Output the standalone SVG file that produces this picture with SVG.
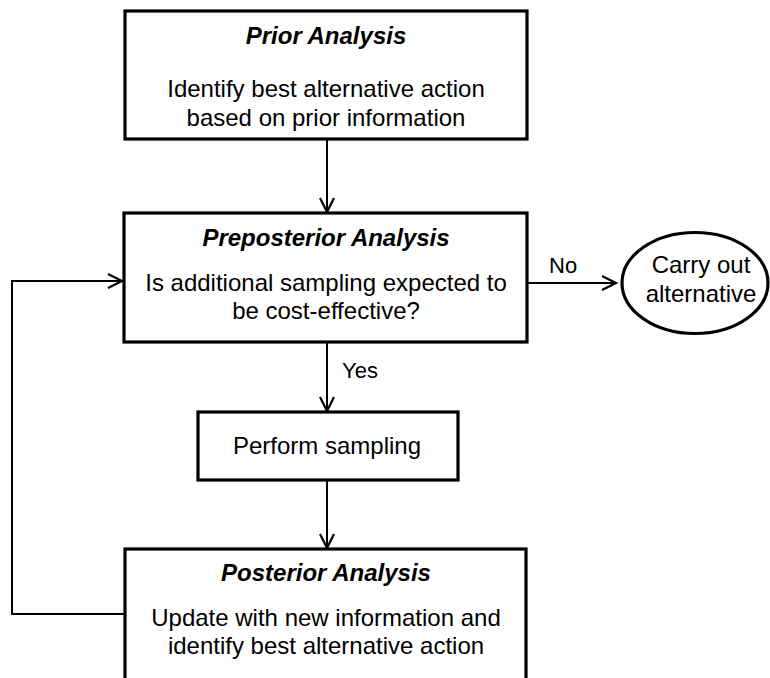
<svg xmlns="http://www.w3.org/2000/svg" width="770" height="678" viewBox="0 0 770 678">
  <defs>
    <marker id="arrow" markerUnits="userSpaceOnUse" markerWidth="18" markerHeight="18" refX="15" refY="8" orient="auto" overflow="visible">
      <path d="M1,1 L15,8 L1,15" fill="none" stroke="#000" stroke-width="2.2"/>
    </marker>
    <style>
      .box { fill: #fff; stroke: #000; stroke-width: 3.2; }
      .title { font-family: "Liberation Sans", Arial, sans-serif; font-size: 24px; font-weight: bold; font-style: italic; fill: #000; text-anchor: middle; }
      .body { font-family: "Liberation Sans", Arial, sans-serif; font-size: 24px; fill: #000; text-anchor: middle; }
      .label { font-family: "Liberation Sans", Arial, sans-serif; font-size: 22px; fill: #000; }
      .conn { fill: none; stroke: #000; stroke-width: 2; }
    </style>
  </defs>
  <rect width="770" height="678" fill="#fff"/>

  <g id="connectors">
    <line class="conn" x1="327" y1="139" x2="327" y2="212" marker-end="url(#arrow)"/>
    <line class="conn" x1="327" y1="342" x2="327" y2="411" marker-end="url(#arrow)"/>
    <line class="conn" x1="327" y1="480" x2="327" y2="548" marker-end="url(#arrow)"/>
    <line class="conn" x1="527" y1="283" x2="616" y2="283" marker-end="url(#arrow)"/>
    <path class="conn" d="M125,614 H12 V281 H122" marker-end="url(#arrow)"/>
    <text class="label" x="549" y="273">No</text>
    <text class="label" x="342" y="378">Yes</text>
  </g>

  <g id="prior">
    <rect class="box" x="125" y="11" width="402" height="128"/>
    <text class="title" x="326" y="44">Prior Analysis</text>
    <text class="body" x="326" y="97">Identify best alternative action</text>
    <text class="body" x="326" y="126">based on prior information</text>
  </g>

  <g id="preposterior">
    <rect class="box" x="124" y="213" width="403" height="129"/>
    <text class="title" x="326" y="246">Preposterior Analysis</text>
    <text class="body" x="326" y="291">Is additional sampling expected to</text>
    <text class="body" x="326" y="319">be cost-effective?</text>
  </g>

  <g id="carryout">
    <ellipse class="box" cx="695" cy="283" rx="73" ry="50.5"/>
    <text class="body" x="701" y="273">Carry out</text>
    <text class="body" x="701" y="302">alternative</text>
  </g>

  <g id="sampling">
    <rect class="box" x="198" y="412" width="260" height="68"/>
    <text class="body" x="327" y="454">Perform sampling</text>
  </g>

  <g id="posterior">
    <rect class="box" x="125" y="549" width="401" height="150"/>
    <text class="title" x="326" y="581">Posterior Analysis</text>
    <text class="body" x="326" y="626">Update with new information and</text>
    <text class="body" x="326" y="654">identify best alternative action</text>
  </g>
</svg>
